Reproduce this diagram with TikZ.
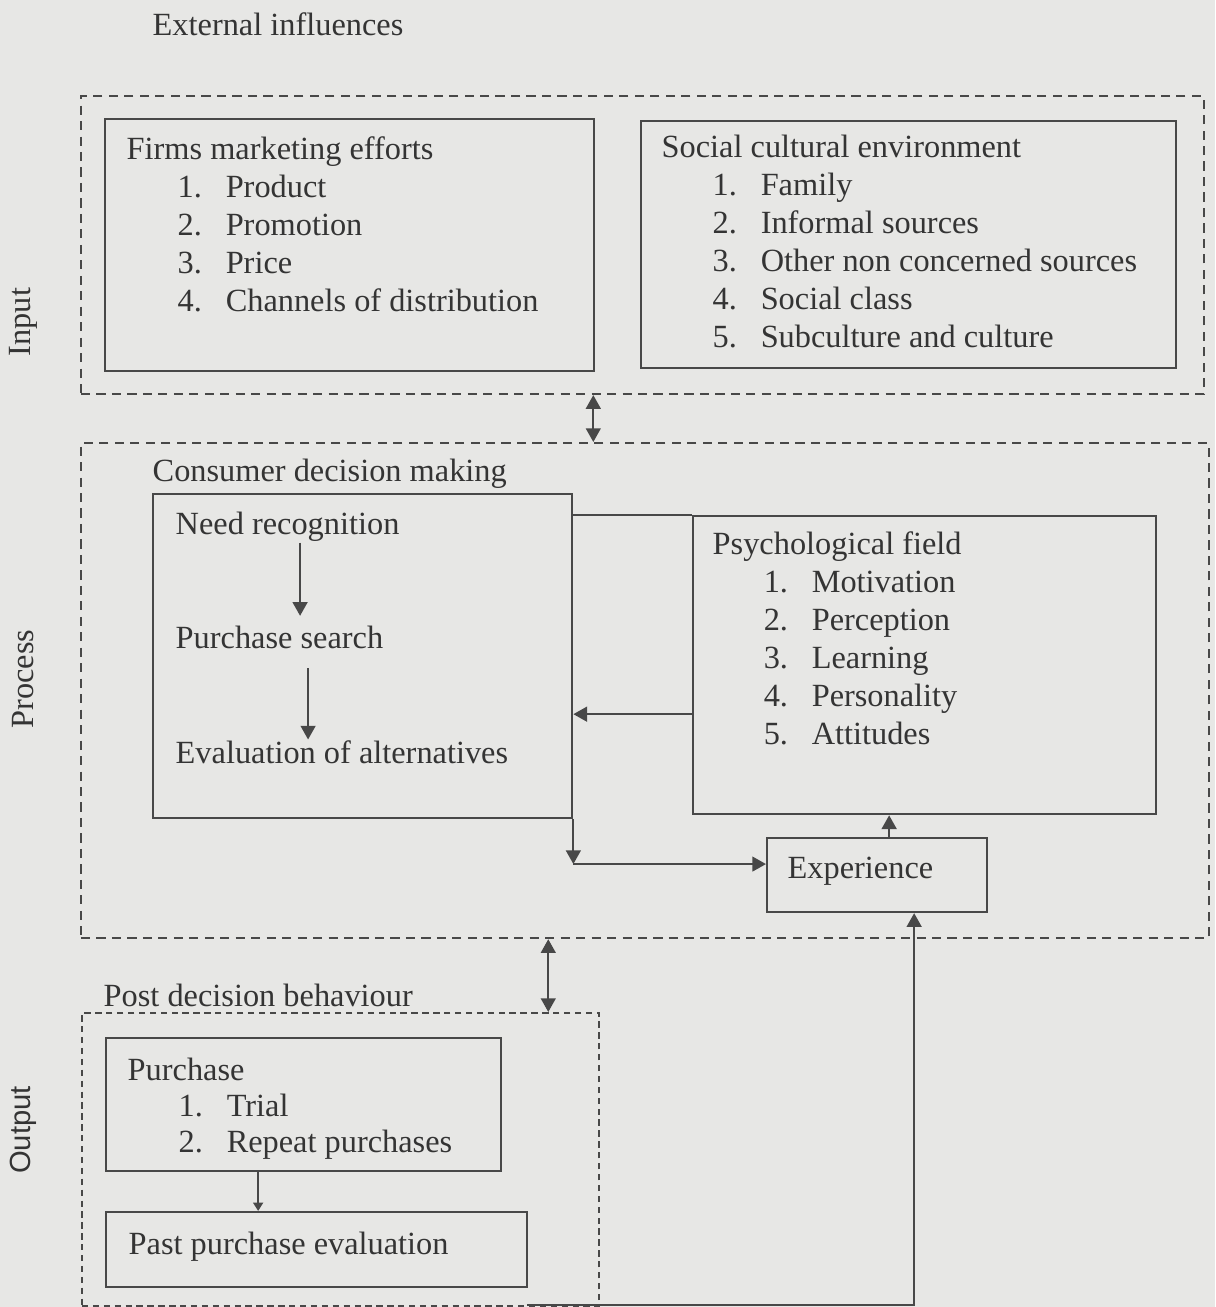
\documentclass[tikz,border=0pt]{standalone}
\usepackage{fontspec}
\setmainfont{Liberation Serif}
\newfontfamily\sidesans{Liberation Sans}
\usetikzlibrary{arrows.meta,positioning}
\definecolor{pagegray}{RGB}{231,231,229}
\definecolor{inkgray}{RGB}{52,52,52}
\definecolor{linegray}{RGB}{72,72,72}
\newcommand{\stack}[1]{\begin{tabular}[t]{@{}l@{}}#1\end{tabular}}
\newcommand{\itm}[2]{\hspace*{0.51cm}\makebox[0.48cm][l]{#1}#2}

\begin{document}
\begin{tikzpicture}[x=0.01cm,y=-0.01cm,>={Triangle[length=3.9pt,width=4.2pt]},
 every node/.style={text=inkgray,font=\fontsize{9.2}{10.8}\selectfont},
 box/.style={draw=linegray,line width=0.6pt,anchor=north west,inner sep=0pt},
 zone/.style={draw=linegray,line width=0.55pt,dash pattern=on 2.6pt off 1.8pt,
  anchor=north west,inner sep=0pt},
 txt/.style={anchor=base west,inner sep=0pt},
 side/.style={rotate=90,inner sep=0pt},
 link/.style={draw=linegray,line width=0.6pt},
 flow/.style={->,link},
 both/.style={<->,link}]
\fill[pagegray] (0,0) rectangle (1215,1307);
\useasboundingbox (0,0) rectangle (1215,1307);
% Drei gestrichelte Bereiche: Input, Process, Output.
\node[zone,minimum width=11.22cm,minimum height=2.98cm] (input) at (80,95) {};
\node[zone,minimum width=11.27cm,minimum height=4.95cm] (process) at (80,442) {};
\node[zone,dash pattern=on 1.8pt off 1.3pt,minimum width=5.17cm,
 minimum height=2.93cm] (output) at (81,1012) {};
\node[side] (inLbl) at (23,322) {Input};
\node[side] (procLbl) at (23,679) {Process};
\node[side,font=\sidesans\fontsize{8.3}{10}\selectfont] (outLbl) at (23,1130) {Output};
% Input
\node[txt] (extHead) at (152,36) {External influences};
\node[box,minimum width=4.89cm,minimum height=2.52cm] (firms) at (104,118) {};
\node[txt] (firmsList) at (126,160) {\stack{Firms marketing efforts\\
 \itm{1.}{Product}\\ \itm{2.}{Promotion}\\ \itm{3.}{Price}\\
 \itm{4.}{Channels of distribution}}};
\node[box,minimum width=5.35cm,minimum height=2.47cm] (social) at (640,120) {};
\node[txt] (socialList) at (661,158) {\stack{Social cultural environment\\
 \itm{1.}{Family}\\ \itm{2.}{Informal sources}\\
 \itm{3.}{Other non concerned sources}\\ \itm{4.}{Social class}\\
 \itm{5.}{Subculture and culture}}};
% Process
\node[txt] (cdmHead) at (152,482) {Consumer decision making};
\node[box,minimum width=4.19cm,minimum height=3.24cm] (cdm) at (152,493) {};
\node[txt] (need) at (175,535) {Need recognition};
\node[txt] (search) at (175,648) {Purchase search};
\node[txt] (evalAlt) at (175,763) {Evaluation of alternatives};
\node[box,minimum width=4.63cm,minimum height=2.98cm] (psych) at (692,515) {};
\node[txt] (psychList) at (712,555) {\stack{Psychological field\\
 \itm{1.}{Motivation}\\ \itm{2.}{Perception}\\ \itm{3.}{Learning}\\
 \itm{4.}{Personality}\\ \itm{5.}{Attitudes}}};
\node[box,minimum width=2.20cm,minimum height=0.74cm] (exp) at (766,837) {};
\node[txt] (expTxt) at (787,878) {Experience};
% Output
\node[txt] (pdbHead) at (103,1006) {Post decision behaviour};
\node[box,minimum width=3.95cm,minimum height=1.33cm] (purchase) at (105,1037) {};
\node[txt,font=\fontsize{9.2}{10.3}\selectfont] (purchaseList) at (127,1080)
 {\stack{Purchase\\ \itm{1.}{Trial}\\ \itm{2.}{Repeat purchases}}};
\node[box,minimum width=4.21cm,minimum height=0.75cm] (past) at (105,1211) {};
\node[txt] (pastTxt) at (128,1254) {Past purchase evaluation};
% Pfeile
\draw[flow] ([xshift=1.25cm]need.south west)
 -- ([xshift=1.25cm,yshift=0.09cm]need.south west |- search.north);
\draw[flow] ([xshift=1.33cm,yshift=-0.19cm]search.south west)
 -- ([xshift=1.33cm]search.south west |- evalAlt.north);
\draw[link] (psych.north west) -- (psych.north west -| cdm.east);
\draw[flow] ([yshift=-0.49cm]psych.west) -- ([yshift=-0.49cm]psych.west -| cdm.east);
\coordinate (turn) at ([yshift=0.11cm]cdm.south east |- exp.west);
\draw[flow] (cdm.south east) -- (turn);
\draw[flow] (turn) -- (turn -| exp.west);
\draw[flow] ([xshift=0.12cm]exp.north) -- ([xshift=0.12cm]exp.north |- psych.south);
\coordinate (loop) at (527,1305);
\draw[flow] (loop) -| ([xshift=0.37cm]exp.south);
\draw[both] ([xshift=5.13cm]input.south west)
 -- ([xshift=5.13cm]input.south west |- process.north);
\draw[both] ([xshift=4.68cm]process.south west)
 -- ([xshift=4.68cm]process.south west |- output.north);
\draw[link,-{Triangle[length=2.4pt,width=2.8pt]}] ([xshift=-0.455cm]purchase.south)
 -- ([xshift=-0.455cm]purchase.south |- past.north);
\end{tikzpicture}
\end{document}
